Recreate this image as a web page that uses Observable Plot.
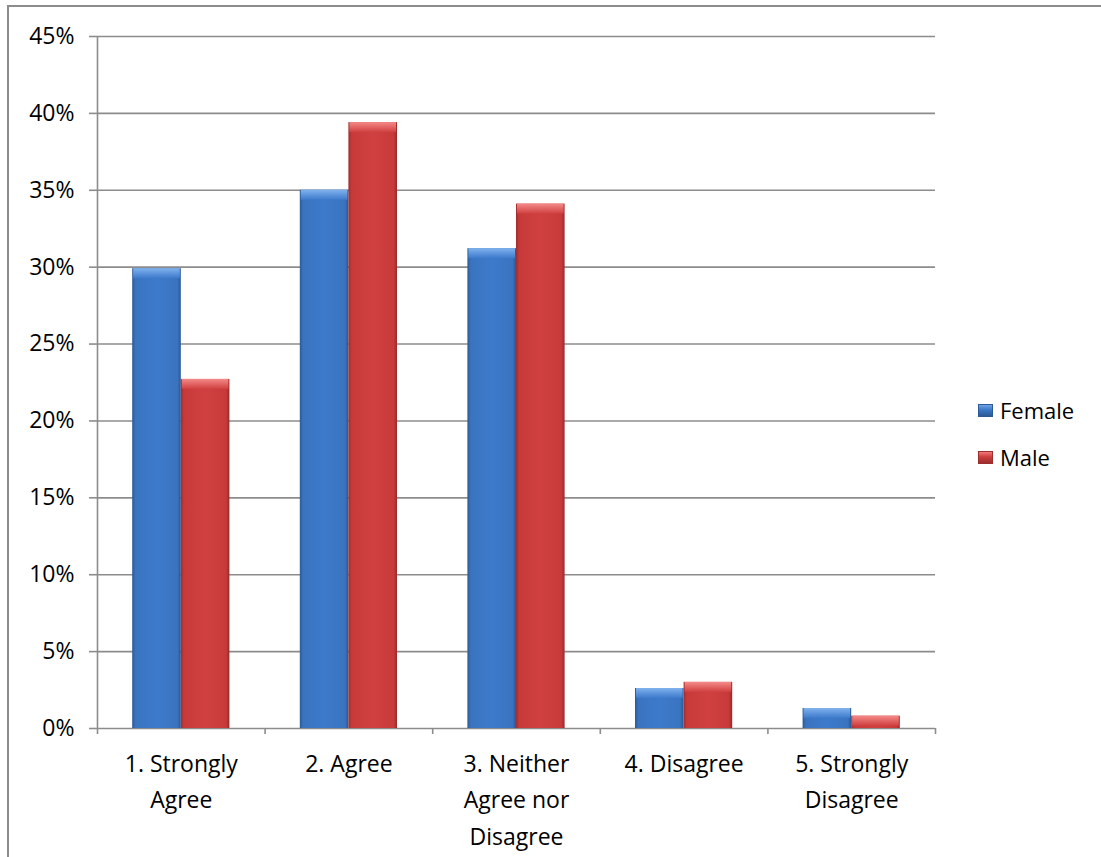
<!DOCTYPE html>
<html>
<head>
<meta charset="utf-8">
<script src="https://cdn.jsdelivr.net/npm/d3@7"></script>
<script src="https://cdn.jsdelivr.net/npm/@observablehq/plot@0.6"></script>
<style>
  html, body { margin: 0; padding: 0; overflow: hidden; background: #fff; }
  #wrap { position: relative; width: 1101px; height: 857px; overflow: hidden; font-family: "Open Sans", sans-serif; }
  #border { position: absolute; left: 7px; top: 5px; width: 1200px; height: 1000px; border: 2px solid #8c8c8c; box-sizing: border-box; }
  #chart { position: absolute; left: 0; top: 0; }
  .lg { position: absolute; left: 978px; display: flex; align-items: center; font-size: 22px; color: #000; }
  .sw { width: 15px; height: 13px; margin-right: 7px; box-sizing: border-box; }
</style>
</head>
<body>
<div id="wrap">
  <div id="border"></div>
  <div id="chart"></div>
  <div class="lg" style="top:395px"><div class="sw" style="background:linear-gradient(#6fa3e6,#3b78c4 45%,#2b5a96);border:1px solid #2b5a96"></div>Female</div>
  <div class="lg" style="top:442px"><div class="sw" style="background:linear-gradient(#f07a78,#cc3d3d 45%,#9e2e2e);border:1px solid #9e2e2e"></div>Male</div>
</div>
<script>
const categories = ["1. Strongly\nAgree", "2. Agree", "3. Neither\nAgree nor\nDisagree", "4. Disagree", "5. Strongly\nDisagree"];
const series = ["Female", "Male"];
const female = [0.299, 0.350, 0.312, 0.026, 0.013];
const male = [0.227, 0.394, 0.341, 0.030, 0.008];
const yTicks = [0, 0.05, 0.10, 0.15, 0.20, 0.25, 0.30, 0.35, 0.40, 0.45];
const xBoundaries = [0, 1, 2, 3, 4, 5];

const rows = categories.flatMap((c, i) => [
  {cat: c, i, gender: series[0], value: female[i]},
  {cat: c, i, gender: series[1], value: male[i]}
]);

const off = {Female: 0.21, Male: 0.5};
const bw = 0.29;
const x1 = d => d.i + off[d.gender];
const x2 = d => d.i + off[d.gender] + bw;
const gray = "#8c8c8c";

const fills = {Female: "url(#gF)", Male: "url(#gM)"};
const tops = {Female: "url(#tF)", Male: "url(#tM)"};

const barMarks = series.flatMap(g => [
  Plot.rect(rows, {filter: d => d.gender === g, x1, x2, y1: 0, y2: "value", fill: fills[g]}),
  Plot.rect(rows, {filter: d => d.gender === g, x1, x2, y1: "value", y2: "value", insetBottom: -10, insetLeft: 1, insetRight: 1, fill: tops[g]})
]);

const chart = Plot.plot({
  width: 1101,
  height: 857,
  marginLeft: 97,
  marginRight: 166,
  marginTop: 36,
  marginBottom: 129,
  style: {fontFamily: "'Open Sans', sans-serif", fontSize: "23px", background: "transparent", color: "#000"},
  x: {domain: [0, 5], axis: null},
  y: {domain: [0, 0.45], axis: null},
  marks: [
    Plot.gridY(yTicks, {stroke: gray, strokeOpacity: 1, strokeWidth: 1.6}),
    Plot.axisY(yTicks, {tickSize: 8, tickPadding: 15, stroke: gray, strokeWidth: 1.6, fill: "#000", fontSize: 23, tickFormat: d => Math.round(d * 100) + "%", label: null}),
    Plot.axisX(xBoundaries, {tickSize: 6, stroke: gray, strokeWidth: 1.6, tickFormat: () => "", label: null}),
    Plot.ruleX([0], {stroke: gray, strokeWidth: 1.6}),
    ...barMarks,
    Plot.text(categories, {x: (d, i) => i + 0.5, y: 0, dy: 17, lineAnchor: "top", lineHeight: 1.6, fontSize: 23, fill: "#000"})
  ]
});

d3.select(chart).insert("defs", ":first-child").html(`
  <linearGradient id="gF" x1="0" x2="1" y1="0" y2="0">
    <stop offset="0" stop-color="#2b5a96"/>
    <stop offset="0.07" stop-color="#3a74c0"/>
    <stop offset="0.5" stop-color="#3d7acb"/>
    <stop offset="0.93" stop-color="#3a74c0"/>
    <stop offset="1" stop-color="#2a5690"/>
  </linearGradient>
  <linearGradient id="gM" x1="0" x2="1" y1="0" y2="0">
    <stop offset="0" stop-color="#9e2e2e"/>
    <stop offset="0.07" stop-color="#c83a3a"/>
    <stop offset="0.5" stop-color="#d04040"/>
    <stop offset="0.93" stop-color="#c83a3a"/>
    <stop offset="1" stop-color="#962a2a"/>
  </linearGradient>
  <linearGradient id="tF" x1="0" x2="0" y1="0" y2="1">
    <stop offset="0" stop-color="#80b2ee"/>
    <stop offset="1" stop-color="#3d7acb"/>
  </linearGradient>
  <linearGradient id="tM" x1="0" x2="0" y1="0" y2="1">
    <stop offset="0" stop-color="#f48a88"/>
    <stop offset="1" stop-color="#d04040"/>
  </linearGradient>
`);

document.getElementById("chart").appendChild(chart);
</script>
</body>
</html>
